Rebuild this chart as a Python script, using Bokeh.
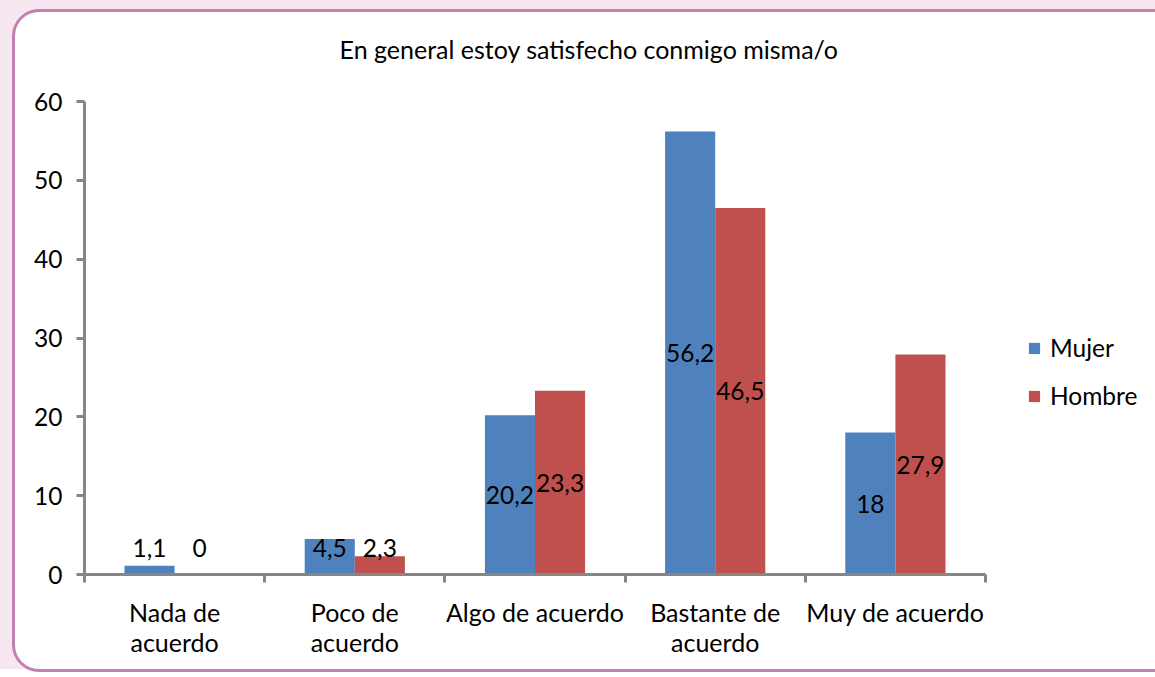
from bokeh.plotting import figure
from bokeh.layouts import column
from bokeh.models import (Range1d, FixedTicker, Legend, LegendItem,
                          ColumnDataSource, LinearAxis)
from bokeh.core.properties import value
from bokeh.embed import file_html
from bokeh.resources import INLINE

# ---------------- data ----------------
categories = ["Nada de\nacuerdo", "Poco de\nacuerdo", "Algo de acuerdo",
              "Bastante de\nacuerdo", "Muy de acuerdo"]
mujer = [1.1, 4.5, 20.2, 56.2, 18]
hombre = [0, 2.3, 23.3, 46.5, 27.9]
series_names = ["Mujer", "Hombre"]
y_ticks = [0, 10, 20, 30, 40, 50, 60]
chart_title = "En general estoy satisfecho conmigo misma/o"

# ---------------- style ----------------
FONT = "Lato"
FS = "24.5px"
COLORS = ["#4F81BD", "#C0504D"]
AXIS = "#868686"
BAR_W = 0.278
LABEL_MIN = 3.3
TITLE_X = 2.8          # horizontal centre of the title, in category units

# figure canvas origin inside the page (wrapper padding; outline drawn as shadow)
OX, OY = 15, 12
TOTAL_W, TOTAL_H = 1147, 669

n = len(categories)
centers = [i + 0.5 for i in range(n)]


def fmt(v):
    return ("%g" % v).replace(".", ",")


src_m = ColumnDataSource(dict(
    x=[c - BAR_W / 2 for c in centers], top=mujer,
    ly=[max(v / 2, LABEL_MIN) for v in mujer], txt=[fmt(v) for v in mujer]))
src_h = ColumnDataSource(dict(
    x=[c + BAR_W / 2 for c in centers], top=hombre,
    ly=[max(v / 2, LABEL_MIN) for v in hombre], txt=[fmt(v) for v in hombre]))

FL, FT, FW, FH = 84 - OX, 101 - OY, 901, 473
p = figure(frame_width=FW, frame_height=FH,
           min_border_left=FL, min_border_right=TOTAL_W - OX - FL - FW,
           min_border_top=FT, min_border_bottom=TOTAL_H - OY - FT - FH,
           x_range=Range1d(0, n), y_range=Range1d(0, 60),
           output_backend="svg", toolbar_location=None)

p.border_fill_alpha = 0
p.background_fill_color = "white"
p.outline_line_color = None
p.xgrid.visible = False
p.ygrid.visible = False
p.styles = {"background-color": "white",
            "box-shadow": "0 0 0 3px #c080b4",
            "border-radius": "24px"}

# category (bottom) axis
xa = p.below[0]
xa.ticker = FixedTicker(ticks=centers, minor_ticks=list(range(n + 1)))
xa.major_label_overrides = {float(c): lab for c, lab in zip(centers, categories)}
xa.major_tick_line_color = None
xa.major_tick_out = 0
xa.major_tick_in = 0
xa.minor_tick_out = 8
xa.minor_tick_in = 0
xa.minor_tick_line_color = AXIS
xa.minor_tick_line_width = 3
xa.axis_line_color = AXIS
xa.axis_line_width = 3
xa.major_label_standoff = 14
xa.major_label_text_font = FONT
xa.major_label_text_font_size = "25px"
xa.major_label_text_color = "black"
xa.major_label_text_line_height = 1.02

# value axis
ya = p.left[0]
ya.ticker = FixedTicker(ticks=y_ticks)
ya.major_tick_out = 8
ya.major_tick_in = 0
ya.major_tick_line_color = AXIS
ya.major_tick_line_width = 3
ya.minor_tick_line_color = None
ya.axis_line_color = AXIS
ya.axis_line_width = 3
ya.major_label_standoff = 14
ya.major_label_text_font = FONT
ya.major_label_text_font_size = FS
ya.major_label_text_color = "black"

# chart title, drawn as the single label of an undecorated axis above the frame
title_axis = LinearAxis(ticker=FixedTicker(ticks=[TITLE_X], minor_ticks=[]),
                        major_label_overrides={TITLE_X: chart_title},
                        axis_line_color=None, major_tick_line_color=None,
                        minor_tick_line_color=None,
                        major_tick_out=0, major_tick_in=0,
                        minor_tick_out=0, minor_tick_in=0,
                        major_label_standoff=38,
                        major_label_text_font=FONT,
                        major_label_text_font_size="25px",
                        major_label_text_color="black")
p.add_layout(title_axis, "above")

rm = p.vbar(x="x", top="top", width=BAR_W, source=src_m,
            fill_color=COLORS[0], line_color=None)
rh = p.vbar(x="x", top="top", width=BAR_W, source=src_h,
            fill_color=COLORS[1], line_color=None)

for src in (src_m, src_h):
    p.text(x="x", y="ly", text="txt", source=src,
           text_font=value(FONT), text_font_size=FS,
           text_color="black", text_align="center",
           text_baseline="middle")

legend = Legend(items=[LegendItem(label=series_names[0], renderers=[rm]),
                       LegendItem(label=series_names[1], renderers=[rh])],
                location=(42, 164), orientation="vertical",
                glyph_width=14, glyph_height=14, label_standoff=9,
                spacing=19, padding=0, margin=0,
                border_line_color=None, background_fill_alpha=0,
                label_text_font=FONT, label_text_font_size=FS,
                label_text_color="black")
p.add_layout(legend, "right")

page = column(p, styles={"background-color": "#f6e7f1",
                         "padding": "%dpx 0 0 %dpx" % (OY, OX)})

open("out.html", "w").write(file_html(page, INLINE))
